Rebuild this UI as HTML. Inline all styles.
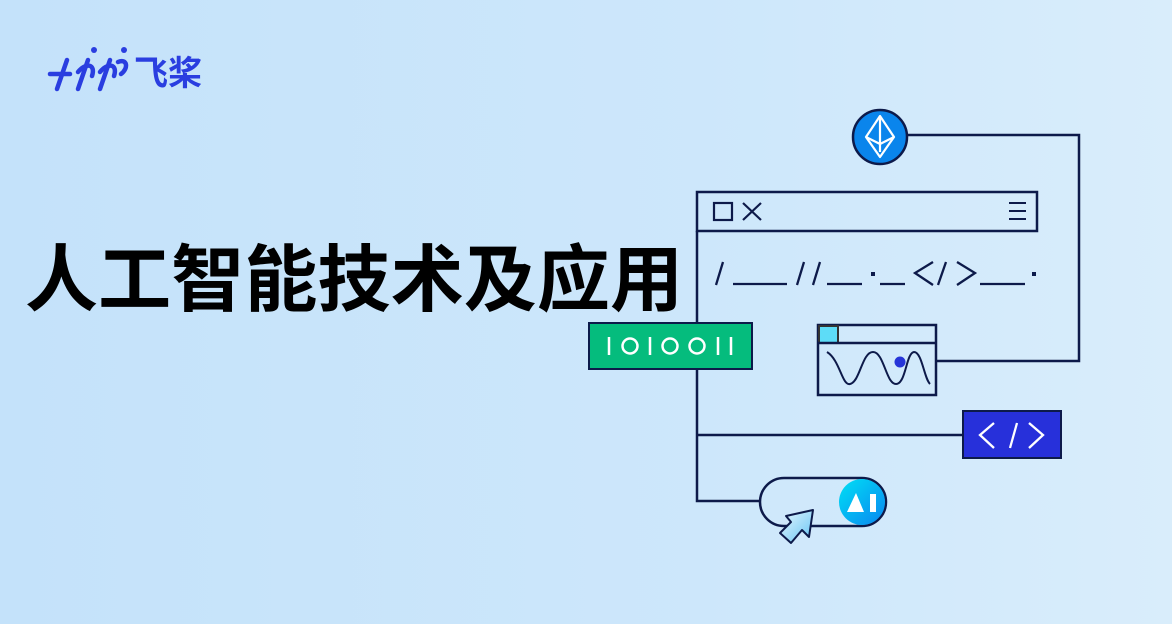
<!DOCTYPE html>
<html><head><meta charset="utf-8"><style>
html,body{margin:0;padding:0;}
body{width:1172px;height:624px;overflow:hidden;background:linear-gradient(90deg,#c4e2fa 0%,#cde7fb 60%,#d9edfb 100%);}
svg{position:absolute;left:0;top:0;}
</style></head><body>
<svg width="1172" height="624" viewBox="0 0 1172 624" xmlns="http://www.w3.org/2000/svg">
<defs>
<linearGradient id="ai" x1="0" y1="0" x2="1" y2="1"><stop offset="0" stop-color="#00e0f5"/><stop offset="1" stop-color="#0a86f0"/></linearGradient>
<linearGradient id="cur" x1="0" y1="0" x2="1" y2="1"><stop offset="0" stop-color="#eaf8ff"/><stop offset="1" stop-color="#62c3f3"/></linearGradient>
</defs>
<!-- logo -->
<g stroke="#2a3ee0" stroke-width="4.5" stroke-linecap="round" fill="none">
<path d="M50 74 H70"/><path d="M67 60 L57 89"/>
<path d="M78 72 C86 62 96 64 92 76"/><path d="M88 60 L78 89"/>
<path d="M100 72 C108 62 118 64 114 76"/><path d="M110 60 L100 89"/>
<path d="M118 62 C127 58 129 68 121 74"/>
</g>
<g fill="#2a3ee0"><circle cx="94" cy="50" r="3"/><circle cx="124" cy="50" r="3"/></g>
<text x="134" y="85" font-family="'Liberation Sans','Noto Sans CJK SC',sans-serif" font-size="34" font-weight="bold" fill="#2a3ee0">飞桨</text>
<!-- title -->
<text x="25" y="305" font-family="'Liberation Sans','Noto Sans CJK SC',sans-serif" font-size="73" font-weight="bold" fill="#000" textLength="658">人工智能技术及应用</text>
<!-- connectors -->
<g stroke="#0d1a4a" stroke-width="2.5" fill="none">
<path d="M907 135 H1079 V361 H937"/>
<path d="M697 231 V501 H760"/>
<path d="M697 435 H963"/>
</g>
<!-- eth circle -->
<circle cx="880" cy="137" r="27" fill="#0a85ec" stroke="#0d1a4a" stroke-width="2.5"/>
<g stroke="#fff" stroke-width="2.2" fill="none" stroke-linejoin="round"><path d="M880 116 L866 137 L880 157 L894 137 Z"/><path d="M880 116 V152 M866 137 L880 144 L894 137"/></g>
<!-- browser bar -->
<rect x="697" y="192" width="340" height="39" fill="none" stroke="#0d1a4a" stroke-width="2.5"/>
<rect x="714" y="203" width="18" height="17" fill="none" stroke="#0d1a4a" stroke-width="2.2"/>
<path d="M743 203 L761 220 M761 203 L743 220" stroke="#0d1a4a" stroke-width="2.2"/>
<path d="M1009 203 H1026 M1009 211 H1026 M1009 219 H1026" stroke="#0d1a4a" stroke-width="2"/>
<!-- code line -->
<g stroke="#0d1a4a" stroke-width="2.3" fill="none">
<path d="M716 285 L723 262 M733 284 H787 M797 285 L804 262 M813 285 L820 262 M827 284 H862 M880 284 H905 M933 262 L915 273 L933 285 M938 285 L946 262 M957 262 L975 273 L957 285 M980 284 H1025"/>
</g>
<rect x="871" y="272" width="4" height="4" fill="#0d1a4a"/><rect x="1032" y="272" width="4" height="4" fill="#0d1a4a"/>
<!-- green -->
<rect x="589" y="323" width="163" height="46" fill="#05bc7d" stroke="#0d1a4a" stroke-width="2"/>
<g stroke="#fff" stroke-width="2.5" fill="none">
<path d="M609 337 V355 M650 337 V355 M718 337 V355 M731 337 V355"/>
<circle cx="630" cy="346" r="7.5"/><circle cx="670" cy="346" r="7.5"/><circle cx="697" cy="346" r="7.5"/>
</g>
<!-- wave panel -->
<rect x="818" y="325" width="118" height="70" fill="none" stroke="#0d1a4a" stroke-width="2.5"/>
<rect x="819" y="326" width="19" height="17" fill="#5ddcf7" stroke="#333" stroke-width="2"/>
<path d="M818 343 H936" stroke="#0d1a4a" stroke-width="2.5"/>
<path d="M827 352 C840 360 842 386 850 384 C860 382 862 352 873 352 C884 352 886 384 896 384 C906 384 906 353 914 352 C922 352 924 378 930 384" stroke="#0d1a4a" stroke-width="2" fill="none"/>
<circle cx="900" cy="362" r="5.5" fill="#2635d8"/>
<!-- blue code box -->
<rect x="963" y="411" width="98" height="47" fill="#2730da" stroke="#0d1a4a" stroke-width="2"/>
<g stroke="#fff" stroke-width="2.3" fill="none"><path d="M994 423 L980 435 L994 448 M1010 448 L1017 423 M1029 423 L1043 435 L1029 448"/></g>
<!-- pill -->
<rect x="760" y="478" width="126" height="48" rx="24" fill="none" stroke="#0d1a4a" stroke-width="2.5"/>
<circle cx="862" cy="502" r="23" fill="url(#ai)"/>
<path d="M847 512 L856 493 L864 512 Z" fill="#fff"/><rect x="870" y="494" width="6" height="18" fill="#fff"/>
<path d="M813 510 L809 537 L802 530 L791 543 L780 533 L791 522 L786 516 Z" fill="url(#cur)" stroke="#0d1a4a" stroke-width="2" stroke-linejoin="round"/>
</svg>
</body></html>
